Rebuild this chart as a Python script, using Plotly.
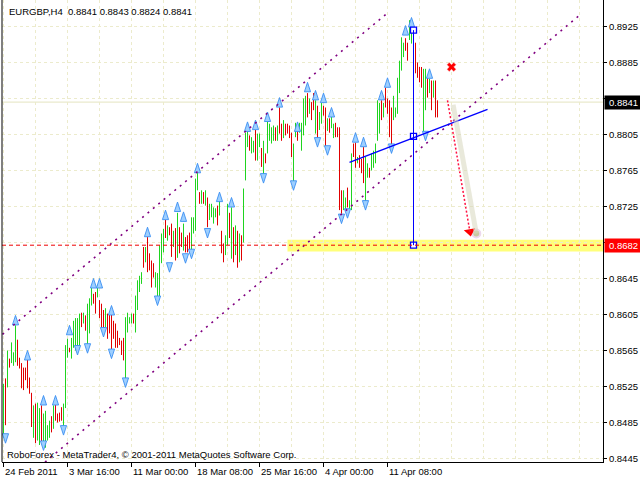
import plotly.graph_objects as go

# ---------------- data (EURGBP H4) ----------------
highs = [
    0.8528, 0.8534, 0.8565, 0.8556, 0.8574, 0.8563, 0.8593, 0.8577, 0.8557, 0.8551,
    0.8546, 0.8546, 0.8556, 0.8535, 0.8518, 0.8504, 0.8506, 0.8507, 0.8501, 0.8504,
    0.8495, 0.8498, 0.8482, 0.8487, 0.8492, 0.8504, 0.8510, 0.8495, 0.8496, 0.8502,
    0.8506, 0.8571, 0.8578, 0.8568, 0.8579, 0.8598, 0.8601, 0.8601, 0.8606, 0.8607,
    0.8607, 0.8604, 0.8617, 0.8623, 0.8635, 0.8628, 0.8630, 0.8638, 0.8621, 0.8617,
    0.8610, 0.8612, 0.8606, 0.8606, 0.8610, 0.8598, 0.8595, 0.8587, 0.8579, 0.8576,
    0.8579, 0.8602, 0.8607, 0.8602, 0.8606, 0.8606, 0.8626, 0.8643, 0.8648, 0.8652,
    0.8680, 0.8680, 0.8691, 0.8673, 0.8665, 0.8662, 0.8652, 0.8651, 0.8682, 0.8695,
    0.8700, 0.8710, 0.8704, 0.8702, 0.8706, 0.8698, 0.8701, 0.8718, 0.8702, 0.8696,
    0.8706, 0.8691, 0.8693, 0.8696, 0.8713, 0.8713, 0.8756, 0.8763, 0.8741, 0.8743,
    0.8741, 0.8743, 0.8735, 0.8728, 0.8728, 0.8724, 0.8723, 0.8726, 0.8732, 0.8698,
    0.8684, 0.8693, 0.8728, 0.8718, 0.8724, 0.8702, 0.8704, 0.8698, 0.8695, 0.8693,
    0.8745, 0.8807, 0.8813, 0.8804, 0.8802, 0.8798, 0.8810, 0.8806, 0.8806, 0.8790,
    0.8798, 0.8784, 0.8821, 0.8817, 0.8813, 0.8815, 0.8813, 0.8815, 0.8835, 0.8817,
    0.8821, 0.8817, 0.8817, 0.8815, 0.8807, 0.8795, 0.8818, 0.8815, 0.8818, 0.8818,
    0.8845, 0.8848, 0.8851, 0.8845, 0.8841, 0.8851, 0.8843, 0.8837, 0.8830, 0.8840,
    0.8837, 0.8835, 0.8823, 0.8823, 0.8826, 0.8817, 0.8818, 0.8813, 0.8813, 0.8743,
    0.8743, 0.8735, 0.8746, 0.8732, 0.8784, 0.8795, 0.8796, 0.8780, 0.8782, 0.8778,
    0.8791, 0.8780, 0.8773, 0.8768, 0.8784, 0.8787, 0.8795, 0.8843, 0.8840, 0.8843,
    0.8840, 0.8857, 0.8845, 0.8843, 0.8835, 0.8848, 0.8835, 0.8868, 0.8887, 0.8913,
    0.8907, 0.8912, 0.8907, 0.8932, 0.8918, 0.8921, 0.8907, 0.8885, 0.8880, 0.8880,
    0.8878, 0.8878, 0.8868, 0.8867, 0.8865, 0.8865, 0.8865, 0.8843,
]
lows = [
    0.8468, 0.8482, 0.8524, 0.8546, 0.8551, 0.8548, 0.8552, 0.8548, 0.8545, 0.8523,
    0.8521, 0.8532, 0.8523, 0.8517, 0.8480, 0.8468, 0.8462, 0.8465, 0.8460, 0.8462,
    0.8456, 0.8457, 0.8465, 0.8468, 0.8474, 0.8478, 0.8487, 0.8485, 0.8486, 0.8487,
    0.8476, 0.8501, 0.8557, 0.8563, 0.8556, 0.8568, 0.8565, 0.8565, 0.8568, 0.8591,
    0.8595, 0.8587, 0.8568, 0.8584, 0.8615, 0.8617, 0.8606, 0.8624, 0.8601, 0.8590,
    0.8585, 0.8591, 0.8578, 0.8584, 0.8563, 0.8578, 0.8568, 0.8568, 0.8571, 0.8560,
    0.8554, 0.8532, 0.8585, 0.8595, 0.8595, 0.8595, 0.8585, 0.8610, 0.8630, 0.8639,
    0.8657, 0.8663, 0.8652, 0.8654, 0.8635, 0.8646, 0.8635, 0.8624, 0.8623, 0.8662,
    0.8674, 0.8690, 0.8687, 0.8693, 0.8669, 0.8680, 0.8665, 0.8668, 0.8673, 0.8680,
    0.8676, 0.8674, 0.8674, 0.8673, 0.8676, 0.8695, 0.8698, 0.8743, 0.8728, 0.8728,
    0.8728, 0.8726, 0.8702, 0.8710, 0.8713, 0.8706, 0.8713, 0.8704, 0.8715, 0.8673,
    0.8663, 0.8671, 0.8682, 0.8690, 0.8667, 0.8663, 0.8671, 0.8657, 0.8663, 0.8665,
    0.8685, 0.8754, 0.8791, 0.8787, 0.8784, 0.8785, 0.8776, 0.8776, 0.8791, 0.8769,
    0.8757, 0.8773, 0.8784, 0.8798, 0.8795, 0.8798, 0.8798, 0.8798, 0.8806, 0.8798,
    0.8801, 0.8804, 0.8806, 0.8801, 0.8780, 0.8751, 0.8802, 0.8798, 0.8807, 0.8787,
    0.8804, 0.8815, 0.8824, 0.8828, 0.8821, 0.8832, 0.8806, 0.8796, 0.8810, 0.8817,
    0.8826, 0.8790, 0.8809, 0.8807, 0.8812, 0.8801, 0.8802, 0.8802, 0.8721, 0.8717,
    0.8721, 0.8721, 0.8724, 0.8721, 0.8721, 0.8780, 0.8768, 0.8773, 0.8768, 0.8762,
    0.8751, 0.8728, 0.8757, 0.8757, 0.8765, 0.8768, 0.8773, 0.8798, 0.8806, 0.8821,
    0.8824, 0.8835, 0.8828, 0.8802, 0.8793, 0.8821, 0.8824, 0.8828, 0.8851, 0.8876,
    0.8891, 0.8898, 0.8887, 0.8910, 0.8906, 0.8884, 0.8873, 0.8868, 0.8863, 0.8857,
    0.8806, 0.8832, 0.8846, 0.8851, 0.8832, 0.8846, 0.8824, 0.8824,
]
bar_up = [
    1, 0, 1, 0, 1, 1, 1, 0, 0, 0,
    0, 0, 0, 0, 0, 1, 0, 1, 1, 0,
    1, 1, 1, 1, 0, 1, 0, 0, 0, 0,
    1, 1, 1, 0, 1, 1, 1, 1, 1, 0,
    1, 0, 1, 1, 1, 0, 0, 1, 0, 0,
    0, 1, 0, 0, 0, 0, 0, 0, 0, 0,
    0, 1, 1, 1, 1, 0, 1, 1, 1, 1,
    0, 1, 0, 0, 0, 0, 1, 1, 1, 1,
    1, 0, 1, 0, 0, 1, 0, 1, 0, 0,
    1, 0, 0, 0, 1, 1, 1, 1, 0, 1,
    0, 1, 0, 1, 1, 1, 1, 0, 1, 0,
    0, 1, 1, 0, 1, 0, 1, 0, 1, 0,
    1, 1, 1, 0, 1, 1, 0, 1, 1, 0,
    1, 0, 1, 1, 1, 1, 0, 1, 0, 0,
    1, 0, 0, 0, 0, 1, 1, 0, 1, 1,
    1, 1, 0, 1, 0, 0, 1, 0, 1, 1,
    0, 0, 1, 0, 1, 1, 0, 0, 0, 0,
    1, 1, 0, 1, 1, 0, 0, 1, 0, 0,
    0, 1, 1, 0, 1, 1, 1, 1, 1, 0,
    1, 0, 0, 0, 0, 1, 1, 1, 1, 1,
    1, 0, 0, 1, 1, 0, 0, 0, 0, 0,
    1, 1, 0, 1, 0, 1, 0, 0,
]

# fractal markers (bar index, price)
fractal_up_bar = [6, 12, 20, 26, 33, 45, 48, 54, 72, 81, 87, 90, 97, 108, 114, 122, 126,
                  132, 138, 147, 152, 156, 160, 164, 176, 180, 189, 192, 201, 204, 213]
fractal_up_price = [0.8604, 0.8565, 0.8515, 0.8515, 0.8593, 0.8645, 0.8645, 0.8615, 0.8702,
                    0.8721, 0.8730, 0.8719, 0.8773, 0.8741, 0.8735, 0.8819, 0.8821, 0.8830,
                    0.8846, 0.8819, 0.8863, 0.8854, 0.8851, 0.8835, 0.8807, 0.8802, 0.8854,
                    0.8868, 0.8926, 0.8935, 0.8878]
fractal_dn_bar = [1, 20, 30, 37, 42, 50, 54, 61, 77, 83, 91, 94, 102, 130, 145, 157, 162,
                  169, 172, 181, 194, 211]
fractal_dn_price = [0.8462, 0.8454, 0.8471, 0.8560, 0.8562, 0.8580, 0.8556, 0.8524, 0.8615,
                    0.8652, 0.8662, 0.8667, 0.8690, 0.8751, 0.8743, 0.8791, 0.8782, 0.8706,
                    0.8712, 0.8721, 0.8784, 0.8798]

tick_bars = [0, 32, 64, 96, 128, 160, 192]
tick_labels = ["24 Feb 2011", "3 Mar 16:00", "11 Mar 00:00", "18 Mar 08:00",
               "25 Mar 16:00", "4 Apr 00:00", "11 Apr 08:00"]
grid_minor_bars = [16, 48, 80, 112, 144, 176, 208, 224, 240, 256, 272, 288]
price_ticks = [0.8445, 0.8485, 0.8525, 0.8565, 0.8605, 0.8645, 0.8685,
               0.8725, 0.8765, 0.8805, 0.8845, 0.8885, 0.8925]

last_price = 0.8841
target_price = 0.8682
target_band = [0.8675, 0.8688]
band_start_bar = 142
channel_upper = [(-0.5, 0.8583), (192.5, 0.8941)]
channel_lower = [(20.75, 0.8441), (288.25, 0.8938)]
trend_line = [(173, 0.8774), (242, 0.8833)]
measure_bar = 205
measure_prices = [0.8921, 0.8803, 0.8682]
forecast_arrow = [(222, 0.8843), (233.2, 0.8697)]
forecast_shadow = [(224.8, 0.8838), (236.4, 0.8695)]
cross_point = (224, 0.8880)

title_text = "EURGBP,H4  0.8841 0.8843 0.8824 0.8841"
footer_text = "RoboForex - MetaTrader4, \u00a9 2001-2011 MetaQuotes Software Corp."

X_RANGE = [-0.75, 299.75]
Y_RANGE = [0.8441111, 0.8954444]
FONT = "Liberation Sans, Arial, sans-serif"
GRID = "#ecebcc"

# ---------------- figure ----------------
fig = go.Figure()

n = min(len(highs), len(lows), len(bar_up))
for up_flag, color in ((1, "#1fd41f"), (0, "#e00000")):
    xs, ys = [], []
    for i in range(n):
        if bar_up[i] == up_flag:
            xs += [i, i, None]
            ys += [lows[i], highs[i], None]
    fig.add_trace(go.Scatter(x=xs, y=ys, mode="lines",
                             line=dict(color=color, width=1),
                             hoverinfo="skip", showlegend=False))

# fractals
fractal_marker = dict(symbol="arrow", size=10, color="#9dcfff",
                      line=dict(color="#3b8ff2", width=0.9))
fig.add_trace(go.Scatter(x=fractal_up_bar, y=fractal_up_price, mode="markers",
                         marker=fractal_marker, hoverinfo="skip", showlegend=False))
fig.add_trace(go.Scatter(x=fractal_dn_bar, y=fractal_dn_price, mode="markers",
                         marker=dict(fractal_marker, angle=180),
                         hoverinfo="skip", showlegend=False))

shapes = []
# target band
shapes.append(dict(type="rect", xref="x", yref="y", x0=band_start_bar, x1=X_RANGE[1],
                   y0=target_band[0], y1=target_band[1], fillcolor="#ffff7a",
                   line=dict(width=0), layer="below"))
# last price line
shapes.append(dict(type="line", xref="paper", yref="y", x0=0, x1=1,
                   y0=last_price, y1=last_price, line=dict(color="#e4e4c0", width=1),
                   layer="below"))
# channel
for (p0, p1) in (channel_upper, channel_lower):
    shapes.append(dict(type="line", xref="x", yref="y", x0=p0[0], y0=p0[1],
                       x1=p1[0], y1=p1[1],
                       line=dict(color="#800080", width=1.6, dash="2px,5px")))
# target dashed line
shapes.append(dict(type="line", xref="paper", yref="y", x0=0, x1=1,
                   y0=target_price, y1=target_price,
                   line=dict(color="#ee0000", width=1, dash="4px,3px")))
# trend line
shapes.append(dict(type="line", xref="x", yref="y", x0=trend_line[0][0], y0=trend_line[0][1],
                   x1=trend_line[1][0], y1=trend_line[1][1],
                   line=dict(color="#0000ff", width=1.4)))
# measure vertical
shapes.append(dict(type="line", xref="x", yref="y", x0=measure_bar, x1=measure_bar,
                   y0=min(measure_prices), y1=max(measure_prices),
                   line=dict(color="#0000ff", width=1)))
# forecast arrow shadow and line
shapes.append(dict(type="line", xref="x", yref="y",
                   x0=forecast_shadow[0][0], y0=forecast_shadow[0][1],
                   x1=forecast_shadow[1][0], y1=forecast_shadow[1][1],
                   line=dict(color="rgba(215,215,190,0.55)", width=5)))
shapes.append(dict(type="line", xref="x", yref="y",
                   x0=forecast_arrow[0][0], y0=forecast_arrow[0][1],
                   x1=forecast_arrow[1][0], y1=forecast_arrow[1][1],
                   line=dict(color="#ff1040", width=1.5, dash="2px,2px")))
# left border
shapes.append(dict(type="line", xref="paper", yref="paper", x0=0, x1=0, y0=0, y1=1,
                   line=dict(color="black", width=1)))
fig.update_layout(shapes=shapes)

# shadow end blob
fig.add_trace(go.Scatter(x=[forecast_shadow[1][0]], y=[forecast_shadow[1][1]], mode="markers",
                         marker=dict(symbol="circle", size=8, color="#c8c8a0",
                                     line=dict(color="#ecd8ec", width=2)),
                         hoverinfo="skip", showlegend=False))
# arrow head
fig.add_trace(go.Scatter(x=[forecast_arrow[1][0]], y=[forecast_arrow[1][1]], mode="markers",
                         marker=dict(symbol="triangle-down", size=10, angle=-10, color="#ff0000"),
                         hoverinfo="skip", showlegend=False))
# measure squares
fig.add_trace(go.Scatter(x=[measure_bar] * len(measure_prices), y=measure_prices, mode="markers",
                         marker=dict(symbol="square", size=6, color="white",
                                     line=dict(color="#0000ff", width=1.3)),
                         hoverinfo="skip", showlegend=False))
# red cross
fig.add_trace(go.Scatter(x=[cross_point[0]], y=[cross_point[1]], mode="markers",
                         marker=dict(symbol="x", size=8, color="#ff0000",
                                     line=dict(color="#ffb0b0", width=0.5)),
                         hoverinfo="skip", showlegend=False))

annotations = []
for b, lab in zip(tick_bars, tick_labels):
    annotations.append(dict(x=b, y=0, xref="x", yref="paper", text=lab, showarrow=False,
                            xanchor="left", yanchor="top", xshift=-1, yshift=-2,
                            font=dict(family=FONT, size=9.5, color="black")))
annotations.append(dict(x=5 / 601, y=1 - 11 / 462, xref="paper", yref="paper",
                        text=title_text, showarrow=False, xanchor="left", yanchor="middle",
                        font=dict(family=FONT, size=9.5, color="black")))
annotations.append(dict(x=3 / 601, y=1 - 454 / 462, xref="paper", yref="paper",
                        text=footer_text, showarrow=False, xanchor="left", yanchor="middle",
                        font=dict(family=FONT, size=9.5, color="black")))
for price, bg in ((last_price, "black"), (target_price, "#ff0000")):
    annotations.append(dict(x=1, y=price, xref="paper", yref="y", text=f"{price:.4f}",
                            showarrow=False, xanchor="left", yanchor="middle", xshift=1,
                            width=35, height=11, align="center", bgcolor=bg,
                            font=dict(family=FONT, size=9.5, color="white")))
fig.update_layout(annotations=annotations)

fig.update_layout(
    width=640, height=480,
    margin=dict(l=2, r=37, t=0, b=18, pad=0),
    paper_bgcolor="white", plot_bgcolor="white",
    showlegend=False,
    xaxis=dict(range=X_RANGE, tickvals=tick_bars, showticklabels=False,
               ticks="outside", ticklen=4, tickcolor="black", tickwidth=1,
               showgrid=True, gridcolor=GRID, griddash="3px,3px", gridwidth=1,
               minor=dict(tickvals=grid_minor_bars, showgrid=True, gridcolor=GRID,
                          griddash="3px,3px", ticks=""),
               showline=True, linecolor="black", linewidth=1, zeroline=False,
               fixedrange=True, automargin=False),
    yaxis=dict(range=Y_RANGE, side="right", tickvals=price_ticks,
               ticktext=[f"{p:.4f}" for p in price_ticks],
               ticks="outside", ticklen=3, tickcolor="black",
               tickfont=dict(family=FONT, size=9.5, color="black"),
               showgrid=True, gridcolor=GRID, griddash="3px,3px", gridwidth=1,
               showline=True, linecolor="black", linewidth=1, zeroline=False,
               fixedrange=True, automargin=False),
)

fig.write_html(
    "out.html",
    config={"displayModeBar": False},
    post_script="document.body.style.margin='0';document.body.style.padding='0';"
                "document.body.style.overflow='hidden';",
)
